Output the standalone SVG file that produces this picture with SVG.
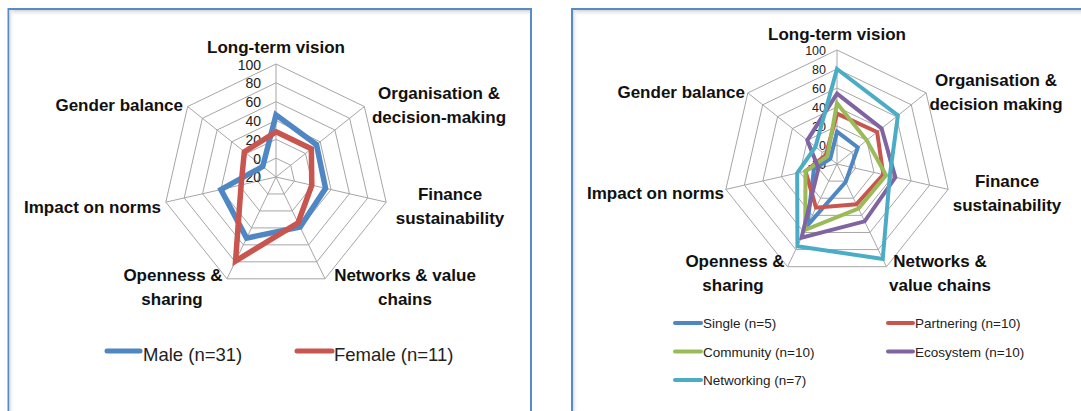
<svg xmlns="http://www.w3.org/2000/svg" width="1081" height="411" viewBox="0 0 1081 411">
<defs>
<style>
.box{fill:#ffffff;stroke:#5a8ac6;stroke-width:2}
.grid{fill:none;stroke:#a6a6a6;stroke-width:1;vector-effect:non-scaling-stroke}
.ax{font-family:"Liberation Sans",Arial,sans-serif;font-weight:bold;font-size:17px;fill:#111}
.tk{font-family:"Liberation Sans",Arial,sans-serif;fill:#222;text-anchor:end}
.lg{font-family:"Liberation Sans",Arial,sans-serif;fill:#222}
.s{fill:none;stroke-linejoin:miter;vector-effect:non-scaling-stroke}
.l5{stroke-width:5.5}
.l4{stroke-width:4}
.blue{stroke:#4f86c4}
.red{stroke:#c9554f}
.green{stroke:#9bbb59}
.purple{stroke:#8064a2}
.cyan{stroke:#4bacc6}
.lk{fill:none;stroke-linecap:round}
</style>
<polygon id="hept" class="grid" points="0,-100 78.183,-62.349 97.493,22.252 43.388,90.097 -43.388,90.097 -97.493,22.252 -78.183,-62.349"/>
<path id="spokes" class="grid" d="M0,0L0,-100M0,0L78.183,-62.349M0,0L97.493,22.252M0,0L43.388,90.097M0,0L-43.388,90.097M0,0L-97.493,22.252M0,0L-78.183,-62.349"/>
<linearGradient id="shT" x1="0" y1="0" x2="0" y2="1"><stop offset="0" stop-color="#d4d4d4"/><stop offset="1" stop-color="#ffffff" stop-opacity="0"/></linearGradient>
<linearGradient id="shL" x1="0" y1="0" x2="1" y2="0"><stop offset="0" stop-color="#dcdcdc"/><stop offset="1" stop-color="#ffffff" stop-opacity="0"/></linearGradient>
</defs>
<rect width="1081" height="411" fill="#ffffff"/>

<g id="left-frame">
<rect class="box" x="8.5" y="9" width="522.5" height="430"/>
<rect x="9.5" y="10" width="520.5" height="7" fill="url(#shT)"/>
<rect x="9.5" y="10" width="5" height="401" fill="url(#shL)"/>
</g>
<g id="right-frame">
<rect class="box" x="572" y="9" width="530" height="430"/>
<rect x="573" y="10" width="508" height="7" fill="url(#shT)"/>
<rect x="573" y="10" width="5" height="401" fill="url(#shL)"/>
</g>

<g id="left-grid" transform="translate(276,177)">
<use href="#hept" transform="scale(0.18833)"/>
<use href="#hept" transform="scale(0.37667)"/>
<use href="#hept" transform="scale(0.565)"/>
<use href="#hept" transform="scale(0.75333)"/>
<use href="#hept" transform="scale(0.94167)"/>
<use href="#hept" transform="scale(1.13)"/>
<use href="#spokes" transform="scale(1.13)"/>
</g>
<g id="left-ticks" class="tk" font-size="14">
<text x="261" y="69.5">100</text>
<text x="261" y="88">80</text>
<text x="261" y="107">60</text>
<text x="261" y="125.5">40</text>
<text x="261" y="144.5">20</text>
<text x="261" y="163.5">0</text>
<text x="261" y="182">-20</text>
</g>
<g id="left-series" transform="translate(276,177) scale(0.94167)">
<polygon id="male" class="s l5 blue" points="0,-66 43.0,-34.29 52.65,12.02 25.60,53.16 -31.24,64.87 -58.50,13.35 -14.07,-11.22"/>
<polygon id="female" class="s l5 red" points="0,-48 37.53,-29.93 38.02,8.68 23.43,48.65 -42.95,89.2 -37.05,8.46 -33.62,-26.81"/>
</g>
<g id="left-labels" class="ax">
<text x="276" y="53" text-anchor="middle">Long-term vision</text>
<text x="439" y="99" text-anchor="middle">Organisation &amp;</text>
<text x="439" y="123" text-anchor="middle">decision-making</text>
<text x="450" y="200" text-anchor="middle">Finance</text>
<text x="450" y="224" text-anchor="middle">sustainability</text>
<text x="405" y="281" text-anchor="middle">Networks &amp; value</text>
<text x="405" y="305" text-anchor="middle">chains</text>
<text x="173" y="281" text-anchor="middle">Openness &amp;</text>
<text x="172" y="305" text-anchor="middle">sharing</text>
<text x="161" y="213" text-anchor="end">Impact on norms</text>
<text x="183" y="111" text-anchor="end">Gender balance</text>
</g>
<g id="left-legend">
<line class="lk blue" x1="107" y1="351" x2="140" y2="351" stroke-width="5"/>
<text class="lg" x="143" y="361" font-size="18.5">Male (n=31)</text>
<line class="lk red" x1="297" y1="351" x2="332" y2="351" stroke-width="5"/>
<text class="lg" x="334" y="361" font-size="18.5">Female (n=11)</text>
</g>

<g id="right-grid" transform="translate(837,164)">
<use href="#hept" transform="scale(0.19)"/>
<use href="#hept" transform="scale(0.38)"/>
<use href="#hept" transform="scale(0.57)"/>
<use href="#hept" transform="scale(0.76)"/>
<use href="#hept" transform="scale(0.95)"/>
<use href="#hept" transform="scale(1.14)"/>
<use href="#spokes" transform="scale(1.14)"/>
</g>
<g id="right-ticks" class="tk" font-size="12.5">
<text x="826" y="55">100</text>
<text x="826" y="73.5">80</text>
<text x="826" y="92.5">60</text>
<text x="826" y="111.5">40</text>
<text x="826" y="130.5">20</text>
<text x="826" y="149.5">0</text>
<text x="826" y="168.5">-20</text>
</g>
<g id="right-series" transform="translate(837,164) scale(0.95)">
<polygon id="single" class="s l4 blue" points="0,-34 21.89,-17.46 14.62,3.34 9.11,18.92 -31.24,64.87 -24.37,5.56 -7.04,-5.61"/>
<polygon id="partnering" class="s l4 red" points="0,-53 42.22,-33.67 48.75,11.13 20.39,42.35 -22.13,45.95 -33.15,7.57 -11.73,-9.35"/>
<polygon id="community" class="s l4 green" points="0,-64 31.27,-24.94 51.67,11.79 22.56,46.85 -33.41,69.37 -33.15,7.57 -10.16,-8.11"/>
<polygon id="ecosystem" class="s l4 purple" points="0,-74 46.91,-37.41 61.42,14.02 29.07,60.36 -37.31,77.48 -19.50,4.45 -31.27,-24.94"/>
<polygon id="networking" class="s l4 cyan" points="0,-100 64.11,-51.13 55.57,12.68 48.16,100.01 -41.65,86.49 -41.92,9.57 -22.67,-18.08"/>
</g>
<g id="right-labels" class="ax">
<text x="837" y="39.5" text-anchor="middle">Long-term vision</text>
<text x="996" y="86" text-anchor="middle">Organisation &amp;</text>
<text x="996" y="110" text-anchor="middle">decision making</text>
<text x="1007" y="187" text-anchor="middle">Finance</text>
<text x="1007" y="211" text-anchor="middle">sustainability</text>
<text x="940" y="267" text-anchor="middle">Networks &amp;</text>
<text x="940" y="291" text-anchor="middle">value chains</text>
<text x="735" y="267" text-anchor="middle">Openness &amp;</text>
<text x="733" y="291" text-anchor="middle">sharing</text>
<text x="724" y="199" text-anchor="end">Impact on norms</text>
<text x="745" y="98" text-anchor="end">Gender balance</text>
</g>
<g id="right-legend" font-size="13.5">
<line class="lk blue" x1="675" y1="323" x2="701" y2="323" stroke-width="4"/>
<text class="lg" x="703" y="328">Single (n=5)</text>
<line class="lk red" x1="888" y1="323" x2="913" y2="323" stroke-width="4"/>
<text class="lg" x="915" y="328">Partnering (n=10)</text>
<line class="lk green" x1="675" y1="351.5" x2="701" y2="351.5" stroke-width="4"/>
<text class="lg" x="703" y="356.5">Community (n=10)</text>
<line class="lk purple" x1="888" y1="351.5" x2="913" y2="351.5" stroke-width="4"/>
<text class="lg" x="915" y="356.5">Ecosystem (n=10)</text>
<line class="lk cyan" x1="675" y1="380" x2="701" y2="380" stroke-width="4"/>
<text class="lg" x="703" y="385">Networking (n=7)</text>
</g>
</svg>
